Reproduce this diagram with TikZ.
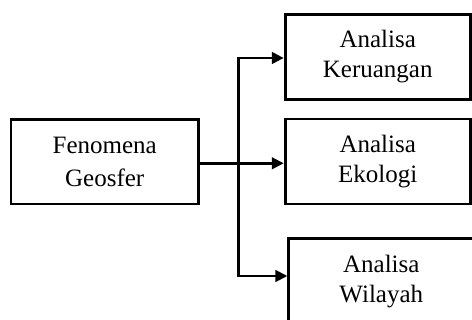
\documentclass[tikz,border=0pt]{standalone}
\usepackage{fontspec}
\setmainfont{Liberation Serif}
\usetikzlibrary{arrows.meta}
\begin{document}
\begin{tikzpicture}[x=1pt,y=-1pt,
  box/.style={draw=black,line width=2.8pt,inner sep=0pt,align=center,
    minimum width=185pt,minimum height=85pt},
  lbl/.style={font=\fontsize{25}{29.5}\selectfont},
  conn/.style={line width=2.9pt,-{Triangle[length=12pt,width=11.5pt]}}]
\useasboundingbox (0,0) rectangle (472,320);
\node[box,minimum width=187.5pt,minimum height=84.5pt,
  font=\fontsize{25}{33}\selectfont] (src) at (104.75,161.75) {Fenomena\\Geosfer};
\node[box,lbl] (b1) at (377.7,56.7) {Analisa\\Keruangan};
\node[box,lbl] (b2) at (377.7,161.5) {Analisa\\Ekologi};
\node[box,lbl] (b3) at (381.3,281.3) {Analisa\\Wilayah};
\coordinate (j) at (238.2,163.3);
\draw[conn] (src.east |- j) -- (b2.west |- j);
\draw[conn] (j) |- ([yshift=-1.3pt]b1.west);
\draw[conn] (j) |- ([yshift=5.3pt]b3.west);
\end{tikzpicture}
\end{document}
